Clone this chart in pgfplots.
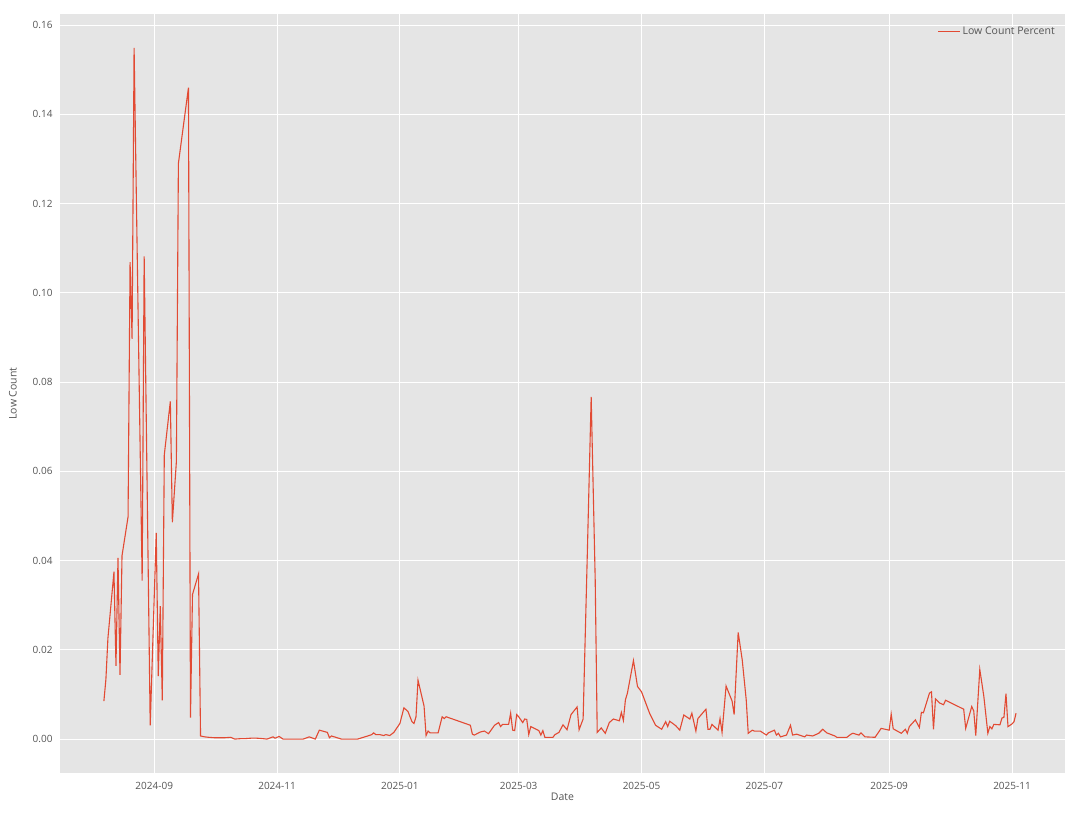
\documentclass[border=0pt]{standalone}
\usepackage{fontspec}
\setmainfont{Open Sans}
\usepackage{pgfplots}
\pgfplotsset{compat=1.18}
\definecolor{bgc}{HTML}{E5E5E5}
\definecolor{linec}{HTML}{E24A33}
\definecolor{txtc}{HTML}{555555}
\begin{document}
\begin{tikzpicture}[x=1pt,y=1pt]
\useasboundingbox (0,0) rectangle (1076,822);
\begin{axis}[
  at={(60pt,49pt)}, anchor=south west,
  width=1005pt, height=759pt, scale only axis,
  xmin=-15.8, xmax=483.3, ymin=-0.0076, ymax=0.1625,
  axis background/.style={fill=bgc},
  axis line style={draw=none},
  grid=major, major grid style={white, line width=1pt},
  major tick length=0pt,
  xtick={31,92,153,212,273,334,396,457},
  xticklabels={2024-09,2024-11,2025-01,2025-03,2025-05,2025-07,2025-09,2025-11},
  ytick={0,0.02,0.04,0.06,0.08,0.10,0.12,0.14,0.16},
  yticklabel style={/pgf/number format/fixed, /pgf/number format/fixed zerofill, /pgf/number format/precision=2},
  /pgf/number format/assume math mode=true,
  scaled y ticks=false,
  tick label style={font=\fontsize{10}{12}\selectfont, text=txtc},
  xticklabel style={yshift=-6pt},
  yticklabel style={xshift=-4pt},
  xlabel={Date}, ylabel={Low Count},
  label style={font=\fontsize{10.5}{12}\selectfont, text=txtc},
  xlabel style={yshift=4pt},
  ylabel style={yshift=9pt},
  legend style={draw=none, fill=none, at={(0.995,0.988)}, anchor=north east,
    font=\fontsize{10.5}{12}\selectfont, text=txtc},
  legend cell align=left,
  legend image code/.code={\draw[#1] (0pt,0pt) -- (22pt,0pt);},
]
\addplot[color=linec, line width=1.1pt] coordinates {
(6,0.0085)(7,0.0134)(8,0.0226)(11,0.0375)(12,0.0164)(13,0.0406)(14,0.0144)(15,0.0411)
(18,0.0498)(19,0.1069)(20,0.0897)(21,0.1549)(25,0.0355)(26,0.1082)(29,0.0031)(32,0.0462)
(33,0.0141)(34,0.0298)(35,0.0087)(36,0.0637)(39,0.0757)(40,0.0486)(42,0.0622)(43,0.1290)
(48,0.1460)(49,0.0048)(50,0.0324)(53,0.0370)(54,0.0007)(56,0.0005)(58,0.0004)(61,0.0003)
(64,0.0003)(66,0.0003)(69,0.0004)(71,0.0000)(74,0.0001)(76,0.0001)(79,0.0002)(82,0.0002)
(85,0.0001)(87,0.0000)(90,0.0005)(91,0.0002)(93,0.0006)(95,0.0000)(98,0.0000)(101,0.0000)
(105,0.0000)(108,0.0005)(111,0.0000)(113,0.0020)(117,0.0015)(118,0.0003)(119,0.0007)
(124,0.0000)(128,0.0000)(132,0.0000)(137,0.0007)(139,0.0010)(140,0.0014)(141,0.0010)
(143,0.0010)(145,0.0008)(146,0.0010)(148,0.0008)(150,0.0015)(153,0.0035)(155,0.0070)
(157,0.0062)(159,0.0039)(160,0.0035)(161,0.0050)(162,0.0132)(165,0.0074)(166,0.0008)
(167,0.0018)(168,0.0014)(172,0.0014)(174,0.0050)(175,0.0046)(176,0.0050)(188,0.0031)
(189,0.0011)(190,0.0009)(193,0.0016)(195,0.0018)(197,0.0012)(200,0.0031)(202,0.0037)
(203,0.0028)(204,0.0033)(207,0.0033)(208,0.0058)(209,0.0020)(210,0.0019)(211,0.0055)
(212,0.0050)(214,0.0037)(215,0.0045)(216,0.0044)(217,0.0010)(218,0.0028)(222,0.0019)
(223,0.0009)(224,0.0019)(225,0.0004)(229,0.0004)(230,0.0010)(232,0.0015)(234,0.0032)
(236,0.0021)(238,0.0055)(241,0.0072)(242,0.0021)(244,0.0045)(246,0.0400)(248,0.0767)
(250,0.0357)(251,0.0015)(253,0.0025)(255,0.0013)(257,0.0037)(259,0.0045)(262,0.0041)
(263,0.0060)(264,0.0042)(265,0.0088)(266,0.0103)(269,0.0176)(271,0.0118)(273,0.0106)
(277,0.0058)(280,0.0031)(283,0.0022)(285,0.0039)(286,0.0028)(287,0.0040)(290,0.0030)
(292,0.0020)(294,0.0054)(297,0.0045)(298,0.0058)(300,0.0018)(301,0.0046)(305,0.0067)
(306,0.0022)(307,0.0022)(308,0.0033)(311,0.0020)(312,0.0046)(313,0.0015)(315,0.0119)
(318,0.0085)(319,0.0055)(321,0.0239)(323,0.0178)(325,0.0088)(326,0.0013)(328,0.0020)
(329,0.0018)(332,0.0018)(335,0.0009)(336,0.0014)(339,0.0020)(340,0.0009)(341,0.0013)
(342,0.0005)(345,0.0009)(347,0.0031)(348,0.0009)(350,0.0011)(354,0.0005)(355,0.0009)
(358,0.0007)(361,0.0013)(363,0.0022)(365,0.0014)(369,0.0007)(370,0.0004)(375,0.0004)
(377,0.0011)(378,0.0013)(381,0.0009)(382,0.0014)(384,0.0005)(389,0.0004)(392,0.0024)
(396,0.0020)(397,0.0056)(398,0.0023)(402,0.0013)(404,0.0022)(405,0.0013)(406,0.0028)
(409,0.0043)(411,0.0026)(412,0.0060)(413,0.0059)(416,0.0103)(417,0.0106)(418,0.0022)
(419,0.0090)(421,0.0081)(423,0.0077)(424,0.0087)(433,0.0067)(434,0.0024)(437,0.0073)
(438,0.0063)(439,0.0008)(441,0.0156)(443,0.0096)(445,0.0013)(446,0.0028)(447,0.0023)
(448,0.0033)(451,0.0032)(452,0.0047)(453,0.0049)(454,0.0102)(455,0.0028)(457,0.0034)
(458,0.0039)(459,0.0058)
};
\addlegendentry{Low Count Percent}
\end{axis}
\end{tikzpicture}
\end{document}
